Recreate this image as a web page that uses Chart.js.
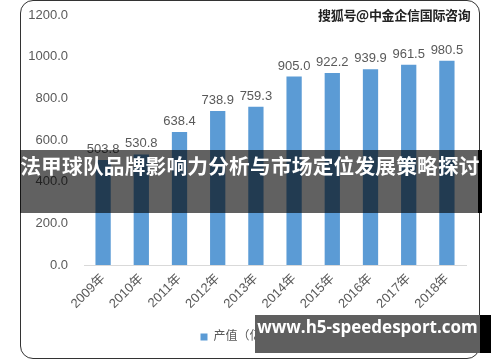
<!DOCTYPE html>
<html><head><meta charset="utf-8">
<script src="https://cdn.jsdelivr.net/npm/chart.js@4/dist/chart.umd.min.js"></script>
<style>
html,body{margin:0;padding:0;background:#fff;}
#wrap{position:relative;width:500px;height:362px;overflow:hidden;}
#frame{position:absolute;left:20px;top:0px;width:458px;height:357px;border:1.5px solid #333;border-radius:13px;box-sizing:content-box;pointer-events:none;}
#wm{position:absolute;left:318px;top:5px;font:bold 13px "Noto Sans CJK SC";color:#222;text-shadow:0 0 2px #fff,0 0 2px #fff;white-space:nowrap;letter-spacing:-0.3px;}
#band{position:absolute;left:20px;top:150px;width:462px;height:63px;background:rgba(0,0,0,0.62);}
#bandEdge{position:absolute;left:478px;top:150px;width:4px;height:63px;background:#000;}
#title{position:absolute;left:20px;top:150px;width:460px;height:63px;line-height:63px;text-align:center;font:bold 20.7px "Noto Sans CJK SC";color:#fff;white-space:nowrap;letter-spacing:0.2px;}
#site{position:absolute;left:255px;top:315px;width:225px;height:38px;background:#5f5f5f;}
#siteEdge{position:absolute;left:480px;top:315px;width:11px;height:38px;background:#000;}
#siteText{position:absolute;left:255px;top:315px;width:225px;height:38px;line-height:38px;text-align:center;font:bold 17px "Open Sans";color:#fff;white-space:nowrap;}
</style></head>
<body>
<div id="wrap">
<canvas id="c" width="500" height="362"></canvas>
<div id="frame"></div>
<div id="wm">搜狐号@中金企信国际咨询</div>
<div id="band"></div><div id="bandEdge"></div>
<div id="title">法甲球队品牌影响力分析与市场定位发展策略探讨</div>
<div id="site"></div><div id="siteEdge"></div>
<div id="siteText">www.h5-speedesport.com</div>
</div>
<script>
const categories = ["2009年","2010年","2011年","2012年","2013年","2014年","2015年","2016年","2017年","2018年"];
const seriesName = "产值（亿元）";
const values = [503.8, 530.8, 638.4, 738.9, 759.3, 905.0, 922.2, 939.9, 961.5, 980.5];
const yTicks = [0, 200, 400, 600, 800, 1000, 1200];

const FONT = '"Liberation Sans", "Noto Sans CJK SC", sans-serif';
const labelPlugin = {
  id: 'valueLabels',
  afterDatasetsDraw(chart) {
    const ctx = chart.ctx;
    const meta = chart.getDatasetMeta(0);
    ctx.save();
    ctx.font = '13px ' + FONT;
    ctx.fillStyle = '#595959';
    ctx.textAlign = 'center';
    ctx.textBaseline = 'bottom';
    meta.data.forEach((bar, i) => {
      ctx.fillText(values[i].toFixed(1), bar.x, bar.y - 4);
    });
    ctx.restore();
  }
};

new Chart(document.getElementById('c'), {
  type: 'bar',
  data: {
    labels: categories,
    datasets: [{
      label: seriesName,
      data: values,
      backgroundColor: '#5B9BD5',
      borderWidth: 0,
      categoryPercentage: 1.0,
      barPercentage: 0.4
    }]
  },
  options: {
    responsive: false,
    animation: false,
    layout: { padding: { left: 20, right: 34, top: 15, bottom: 9 } },
    plugins: {
      legend: {
        position: 'bottom',
        labels: { boxWidth: 7, boxHeight: 7, padding: 8, color: '#595959', font: { family: FONT, size: 12 } }
      },
      tooltip: { enabled: false }
    },
    scales: {
      x: {
        grid: { display: false, drawTicks: false },
        border: { display: true, color: '#d9d9d9', width: 1 },
        ticks: { color: '#595959', font: { family: FONT, size: 13 }, maxRotation: 45, minRotation: 45, padding: 6 },
        afterFit(s) { s.height = 58; }
      },
      y: {
        min: 0, max: 1200,
        afterBuildTicks(s) { s.ticks = yTicks.map(v => ({ value: v })); },
        grid: { display: false, drawTicks: false },
        border: { display: false },
        ticks: { color: '#595959', font: { family: FONT, size: 13 }, padding: 16, callback: v => Number(v).toFixed(1) },
        afterFit(s) { s.width = 64; s.paddingTop = 0; s.paddingBottom = 0; }
      }
    }
  },
  plugins: [labelPlugin]
});
</script>
</body></html>
